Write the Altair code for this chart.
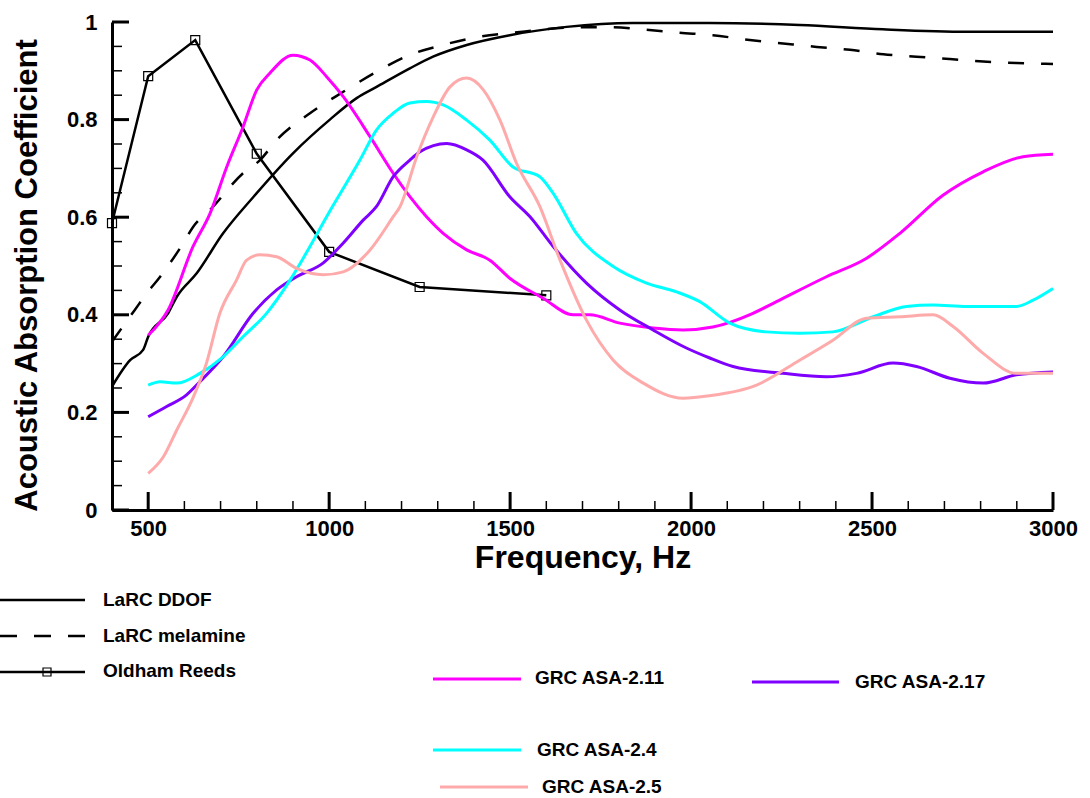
import altair as alt
import pandas as pd

FONT = "Liberation Sans"

# ---------------- data ----------------
DDOF_F = [400, 450, 486, 500, 555, 579, 634, 707, 790, 900, 1002, 1076, 1131, 1223, 1287,
          1380, 1499, 1656, 1839, 2050, 2300, 2530, 2762, 3000]
DDOF_V = [0.253, 0.307, 0.328, 0.355, 0.403, 0.437, 0.485, 0.567, 0.641, 0.731, 0.800, 0.844,
          0.867, 0.905, 0.929, 0.953, 0.973, 0.990, 0.998, 0.998, 0.994, 0.985, 0.980, 0.980]

MEL_F = [400, 463, 496, 533, 597, 624, 671, 762, 809, 855, 947, 1039, 1131, 1214, 1315, 1417,
         1508, 1693, 1785, 1877, 1969, 2060, 2162, 2254, 2347, 2439, 2531, 2623, 2715, 2807,
         2899, 3000]
MEL_V = [0.345, 0.410, 0.444, 0.478, 0.547, 0.580, 0.615, 0.690, 0.717, 0.758, 0.813, 0.857,
         0.898, 0.930, 0.953, 0.970, 0.978, 0.989, 0.989, 0.984, 0.978, 0.973, 0.963, 0.956,
         0.949, 0.943, 0.934, 0.929, 0.924, 0.919, 0.916, 0.914]

OLD_F = [400, 500, 630, 800, 1000, 1250, 1600]
OLD_V = [0.588, 0.889, 0.963, 0.730, 0.529, 0.457, 0.440]

A211_F = [500, 555, 624, 671, 717, 762, 800, 836, 900, 947, 993, 1039, 1113, 1177, 1223, 1269,
          1315, 1380, 1444, 1499, 1591, 1674, 1720, 1803, 1895, 1978, 2060, 2171, 2236, 2374,
          2485, 2577, 2696, 2807, 2917, 3000]
A211_V = [0.358, 0.410, 0.540, 0.608, 0.703, 0.785, 0.861, 0.895, 0.932, 0.922, 0.888, 0.847,
          0.765, 0.690, 0.642, 0.601, 0.567, 0.533, 0.512, 0.475, 0.434, 0.400, 0.400, 0.383,
          0.373, 0.369, 0.375, 0.403, 0.427, 0.478, 0.516, 0.567, 0.645, 0.693, 0.724, 0.729]

A217_F = [500, 551, 606, 643, 707, 790, 855, 910, 983, 1039, 1094, 1131, 1177, 1223, 1251,
          1325, 1380, 1425, 1499, 1555, 1619, 1711, 1803, 1895, 1987, 2050, 2116, 2254, 2374,
          2457, 2558, 2623, 2715, 2807, 2899, 3000]
A217_V = [0.191, 0.212, 0.236, 0.263, 0.314, 0.403, 0.451, 0.478, 0.506, 0.547, 0.594, 0.622,
          0.683, 0.717, 0.734, 0.751, 0.738, 0.717, 0.642, 0.601, 0.540, 0.465, 0.410, 0.369,
          0.332, 0.312, 0.294, 0.280, 0.273, 0.280, 0.301, 0.294, 0.270, 0.260, 0.277, 0.283]

A24_F = [500, 533, 579, 643, 707, 762, 827, 892, 947, 993, 1085, 1131, 1177, 1223, 1269, 1315,
         1380, 1444, 1508, 1582, 1619, 1683, 1785, 1877, 1960, 2024, 2107, 2208, 2300, 2392,
         2503, 2595, 2668, 2761, 2899, 2945, 3000]
A24_V = [0.256, 0.263, 0.260, 0.280, 0.314, 0.355, 0.403, 0.471, 0.540, 0.601, 0.717, 0.779,
         0.813, 0.834, 0.837, 0.830, 0.799, 0.758, 0.703, 0.683, 0.649, 0.567, 0.499, 0.465,
         0.447, 0.427, 0.383, 0.365, 0.362, 0.365, 0.396, 0.417, 0.420, 0.417, 0.417, 0.430,
         0.454]

A25_F = [500, 542, 579, 625, 661, 698, 744, 772, 809, 855, 910, 984, 1039, 1113, 1177, 1196,
         1242, 1288, 1334, 1380, 1426, 1472, 1518, 1582, 1638, 1711, 1785, 1868, 1978, 2050,
         2181, 2300, 2392, 2485, 2577, 2669, 2724, 2807, 2899, 3000]
A25_V = [0.075, 0.109, 0.164, 0.232, 0.301, 0.403, 0.471, 0.512, 0.523, 0.519, 0.495, 0.482,
         0.488, 0.533, 0.601, 0.622, 0.724, 0.806, 0.867, 0.885, 0.861, 0.799, 0.710, 0.622,
         0.512, 0.389, 0.307, 0.260, 0.229, 0.234, 0.256, 0.307, 0.348, 0.393, 0.396, 0.400,
         0.376, 0.321, 0.280, 0.280]

GRC_NAMES = ["GRC ASA-2.11", "GRC ASA-2.17", "GRC ASA-2.4", "GRC ASA-2.5"]
GRC_COLORS = ["#FF00FF", "#7F00FF", "#00FFFF", "#FFAAAA"]

X_LABELS = [500, 1000, 1500, 2000, 2500, 3000]
X_MINOR = [500, 600, 700, 800, 900, 1100, 1200, 1300, 1400, 1600, 1700, 1800, 1900,
           2100, 2200, 2300, 2400, 2600, 2700, 2800, 2900]
Y_LABELS = [0, 0.2, 0.4, 0.6, 0.8, 1.0]
Y_MINOR = [0.05, 0.1, 0.15, 0.25, 0.3, 0.35, 0.45, 0.5, 0.55, 0.65, 0.7, 0.75, 0.85, 0.9, 0.95]

# ---------------- layout ----------------
W, H = 941, 488
OX, OY = 112, 22  # plot origin on the page

xscale = alt.Scale(domain=[400, 3000], nice=False, zero=False)
yscale = alt.Scale(domain=[0, 1], nice=False, zero=False)

xaxis = alt.Axis(
    title="Frequency, Hz", values=X_LABELS, format="d", ticks=False, tickSize=0, grid=False,
    domainColor="black", domainWidth=3, labelFont=FONT, labelFontWeight="bold",
    labelFontSize=22, labelColor="black", labelPadding=8, labelFlush=False,
    labelOverlap=False, titleFont=FONT, titleFontWeight="bold", titleFontSize=32,
    titleColor="black", titleX=W / 2, titleY=47, titleAlign="center", titleBaseline="middle",
)
yaxis = alt.Axis(
    title="Acoustic Absorption Coefficient", values=Y_LABELS, format="~g", ticks=False,
    tickSize=0, grid=False, domainColor="black", domainWidth=3, labelFont=FONT,
    labelFontWeight="bold", labelFontSize=22, labelColor="black", labelPadding=15,
    labelFlush=False, labelOverlap=False, titleFont=FONT, titleFontWeight="bold",
    titleFontSize=31, titleColor="black", titleX=-85, titleY=253, titleAngle=270,
    titleAlign="center", titleBaseline="middle",
)

X = alt.X("f:Q", scale=xscale, axis=xaxis, title="Frequency, Hz")
Y = alt.Y("v:Q", scale=yscale, axis=yaxis, title="Acoustic Absorption Coefficient")


def series_df(f, v):
    return pd.DataFrame({"f": f, "v": v})


ddof = alt.Chart(series_df(DDOF_F, DDOF_V)).mark_line(
    color="black", strokeWidth=2.5, interpolate="monotone").encode(x=X, y=Y)

mel = alt.Chart(series_df(MEL_F, MEL_V)).mark_line(
    color="black", strokeWidth=2.5, strokeDash=[16, 17], interpolate="monotone").encode(x=X, y=Y)

old_line = alt.Chart(series_df(OLD_F, OLD_V)).mark_line(color="black", strokeWidth=2.5).encode(x=X, y=Y)
old_pts = alt.Chart(series_df(OLD_F, OLD_V)).mark_point(
    shape="square", filled=False, size=81, color="black", strokeWidth=1.2, opacity=1
).encode(x=X, y=Y)

grc_rows = []
for name, fs, vs in zip(GRC_NAMES, [A211_F, A217_F, A24_F, A25_F], [A211_V, A217_V, A24_V, A25_V]):
    for f, v in zip(fs, vs):
        grc_rows.append({"series": name, "f": f, "v": v})
grc = alt.Chart(pd.DataFrame(grc_rows)).mark_line(strokeWidth=3, interpolate="monotone").encode(
    x=X, y=Y,
    color=alt.Color("series:N", scale=alt.Scale(domain=GRC_NAMES, range=GRC_COLORS), legend=None),
    detail="series:N",
)

# ---------------- inward ticks ----------------
x_major = alt.Chart(pd.DataFrame({"f": X_LABELS})).mark_rule(color="black", strokeWidth=3).encode(
    x=X, y=alt.value(H), y2=alt.value(H - 18))
x_minor = alt.Chart(pd.DataFrame({"f": X_MINOR})).mark_rule(color="black", strokeWidth=1.5).encode(
    x=X, y=alt.value(H), y2=alt.value(H - 9))
y_major = alt.Chart(pd.DataFrame({"v": Y_LABELS})).mark_rule(color="black", strokeWidth=3).encode(
    y=Y, x=alt.value(0), x2=alt.value(17))
y_minor = alt.Chart(pd.DataFrame({"v": Y_MINOR})).mark_rule(color="black", strokeWidth=1.5).encode(
    y=Y, x=alt.value(0), x2=alt.value(10))


# ---------------- legend (hand-placed, like the reference) ----------------
def legend_entry(label, color, x0, x1, y, tx, ty, width=2.5, dash=None, marker_x=None):
    src = alt.Chart(pd.DataFrame({"label": [label]}))
    kw = dict(color=color, strokeWidth=width)
    if dash:
        kw["strokeDash"] = dash
    parts = [
        src.mark_rule(**kw).encode(x=alt.value(x0 - OX), x2=alt.value(x1 - OX), y=alt.value(y - OY)),
        src.mark_text(align="left", baseline="middle", font=FONT, fontSize=19,
                      fontWeight="bold", color="black").encode(
            x=alt.value(tx - OX), y=alt.value(ty - OY), text="label:N"),
    ]
    if marker_x is not None:
        parts.append(src.mark_point(shape="square", filled=False, size=64, color="black",
                                    strokeWidth=1.2, opacity=1).encode(
            x=alt.value(marker_x - OX), y=alt.value(y - OY)))
    return parts


legend_layers = []
legend_layers += legend_entry("LaRC DDOF", "black", 0, 85, 600, 103, 600)
legend_layers += legend_entry("LaRC melamine", "black", 0, 85, 636, 103, 636, dash=[17, 17])
legend_layers += legend_entry("Oldham Reeds", "black", 0, 85, 672, 103, 671, marker_x=47)
legend_layers += legend_entry(GRC_NAMES[0], GRC_COLORS[0], 433, 521, 679, 535, 678, width=3)
legend_layers += legend_entry(GRC_NAMES[1], GRC_COLORS[1], 752, 839, 682, 855, 682, width=3)
legend_layers += legend_entry(GRC_NAMES[2], GRC_COLORS[2], 433, 521, 750, 537, 750, width=3)
legend_layers += legend_entry(GRC_NAMES[3], GRC_COLORS[3], 440, 528, 787, 542, 787, width=3)

chart = alt.layer(
    ddof, x_major, x_minor, y_major, y_minor, mel, old_line, old_pts, grc, *legend_layers
).properties(
    width=W, height=H,
    padding={"left": OX, "top": OY, "right": 1090 - OX - W, "bottom": 798 - OY - H},
    autosize=alt.AutoSizeParams(type="none"),
    background="white",
).configure_view(stroke=None)

chart.save("out.html", embed_options={"renderer": "svg", "actions": False})
